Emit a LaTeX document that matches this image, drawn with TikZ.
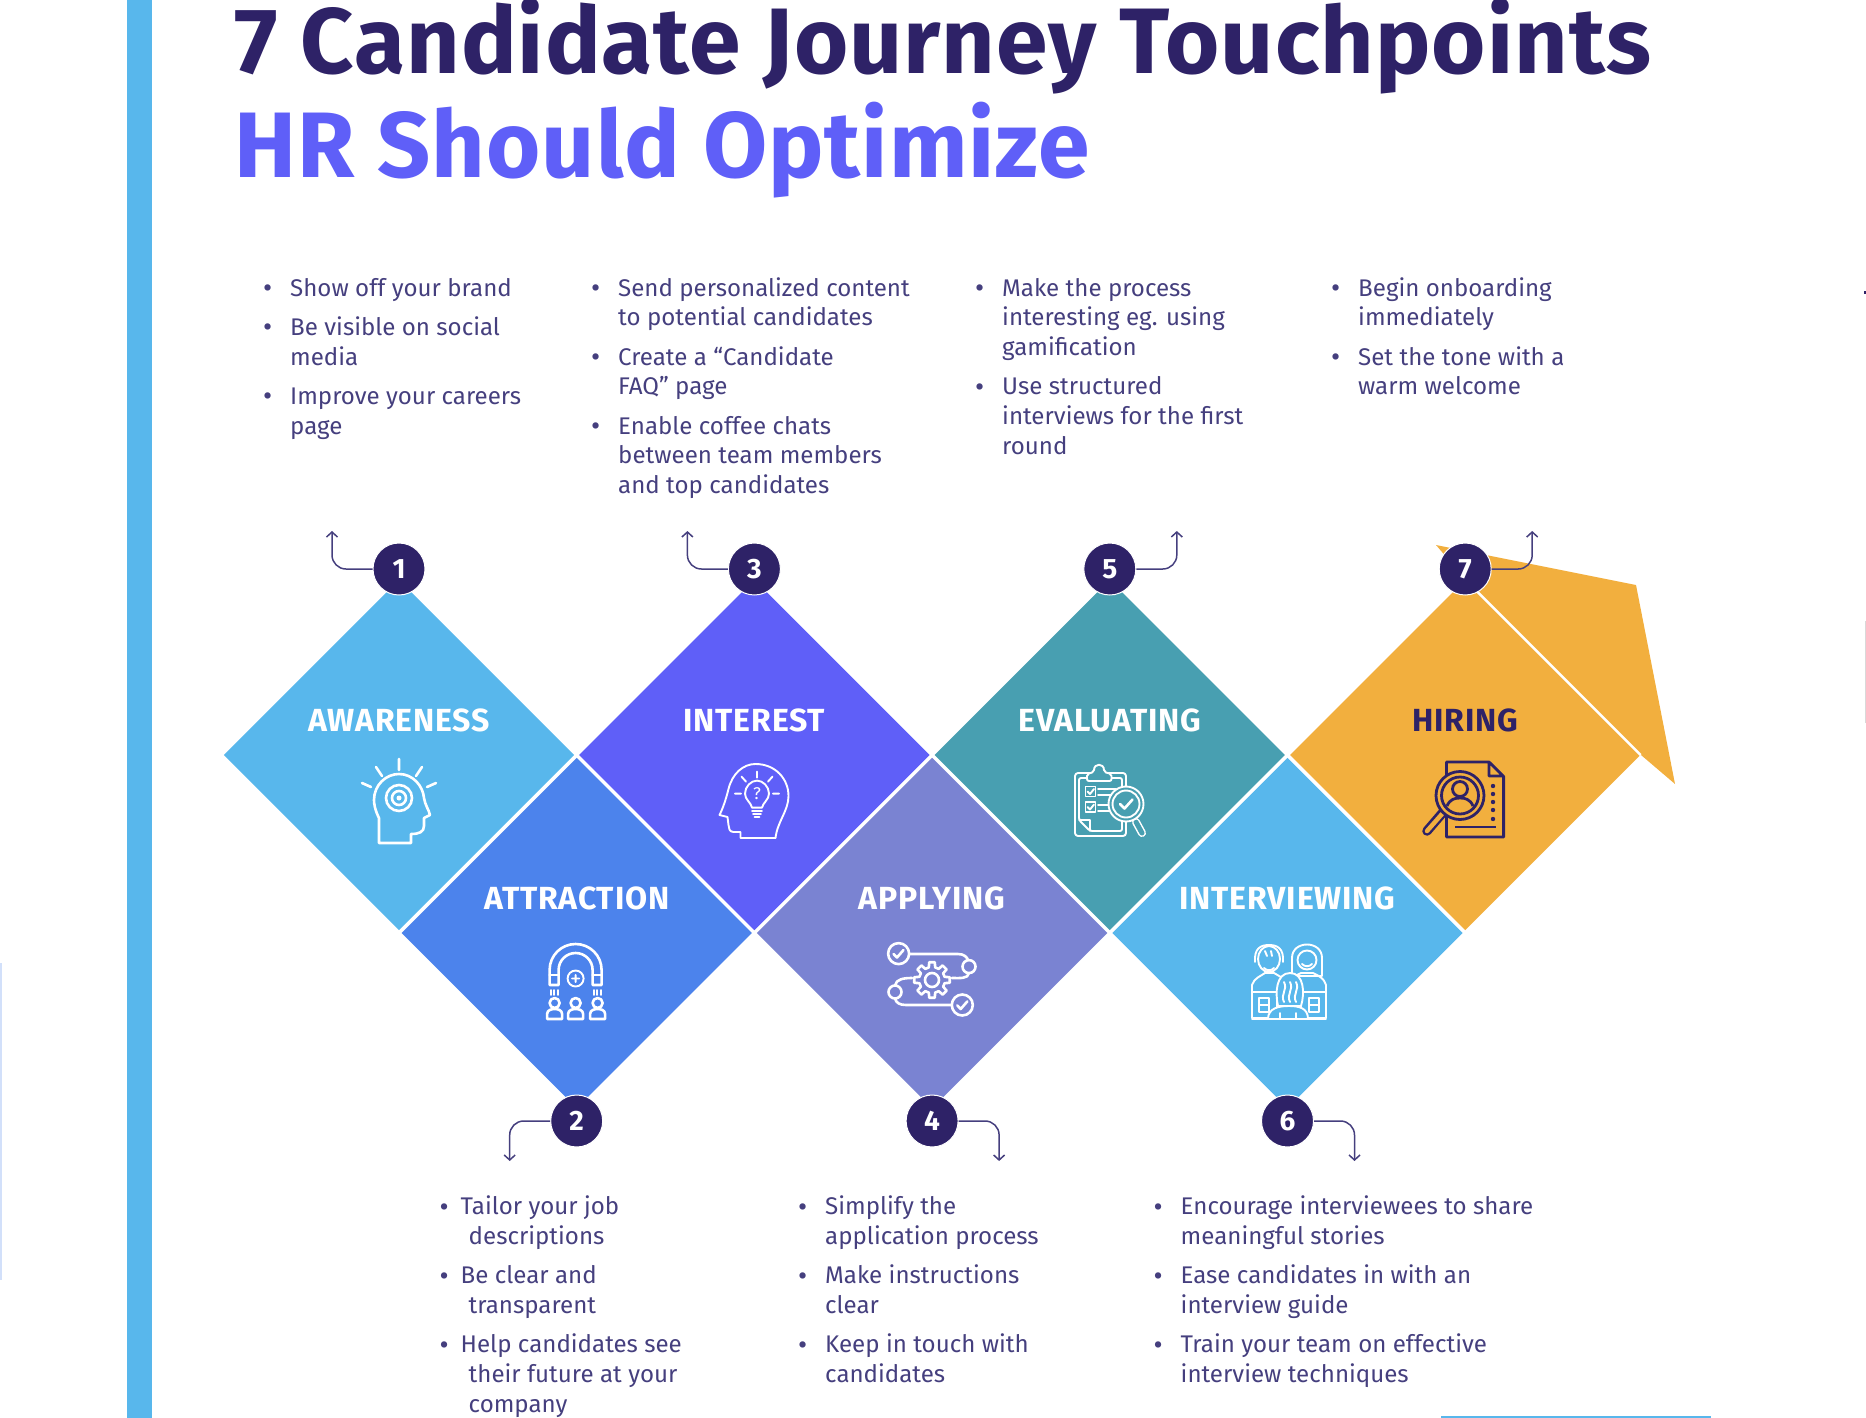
\documentclass[tikz,border=0pt]{standalone}
\usepackage{fontspec}
\setmainfont{Fira Sans}
\newfontfamily\stagefont[LetterSpace=2.5]{Fira Sans}
\newfontfamily\titlefont[LetterSpace=1.1]{Fira Sans}
\usetikzlibrary{shapes.geometric,calc,arrows.meta}
\definecolor{navy}{HTML}{2E2267}
\definecolor{bodyink}{HTML}{453F7E}
\definecolor{skyblue}{HTML}{58B7EC}
\definecolor{royal}{HTML}{4C83EC}
\definecolor{violet}{HTML}{5F5FF8}
\definecolor{lavender}{HTML}{7A83D2}
\definecolor{teal}{HTML}{489FB1}
\definecolor{amber}{HTML}{F2AF3E}
\newcommand{\tip}[1][18pt]{\strut\llap{\raisebox{-1.5pt}{\fontsize{28}{28}\selectfont\textbullet}\hskip #1}}
\newcommand{\tipgap}{\\[9.5pt]}
\tikzset{
  stage/.style={diamond,aspect=1,inner sep=0pt,minimum width=350.5pt,minimum height=350.5pt},
  stagename/.style={font=\stagefont\fontsize{32}{36}\selectfont\bfseries},
  numdot/.style={circle,fill=navy,draw=white,line width=1pt,minimum size=52pt,inner sep=0pt,text=white,font=\fontsize{28}{30}\selectfont\bfseries},
  tips/.style={anchor=north west,align=left,inner sep=0pt,text=bodyink,font=\fontsize{24.1}{29.75}\selectfont},
  headline/.style={anchor=base west,inner sep=0pt,font=\titlefont\fontsize{93}{100}\selectfont\bfseries},
  hook/.style={draw=bodyink,line width=1.5pt,rounded corners=14pt,-{Straight Barb[length=5pt,width=11pt]}},
  icon/.style={white,line width=2.6pt,line join=round,line cap=round},
  thinicon/.style={white,line width=1.9pt,line join=round,line cap=round},
  headtarget/.pic={
    \draw[icon] (-20,43) -- (-20,18) .. controls (-24,10) and (-25,4) .. (-25,0) .. controls (-25,-15) and (-13,-26) .. (0,-26) .. controls (14,-26) and (24,-14) .. (25,-2) .. controls (26,5) and (30,10) .. (31,15) -- (25,18) -- (25,26) .. controls (25,32) and (20,34) .. (12,34) -- (12,43) -- cycle;
    \draw[icon] (0,-41) -- (0,-30) (-23,-33) -- (-17,-24) (23,-33) -- (17,-24) (-37,-17) -- (-28,-13) (37,-17) -- (28,-13);
    \draw[icon] (0,-2) circle (13) (0,-2) circle (7);
    \fill[white] (0,-2) circle (2.5);
  },
  headbulb/.pic={
    \draw[thinicon] (-15,37) -- (-15,31) -- (-22,31) .. controls (-26,31) and (-27,27) .. (-27,24) -- (-28,16) -- (-36,14) .. controls (-33,8) and (-30,0) .. (-27,-12) .. controls (-23,-28) and (-12,-37) .. (0,-37) .. controls (20,-37) and (33,-22) .. (33,-5) .. controls (33,10) and (22,20) .. (20,37) -- cycle;
    \begin{scope}[shift={(1.5,-7.4)}]
    \draw[thinicon] (-5,14) .. controls (-6,9) and (-12,6) .. (-12,0) .. controls (-12,-7) and (-6,-13) .. (0,-13) .. controls (6,-13) and (12,-7) .. (12,0) .. controls (12,6) and (6,9) .. (5,14) -- cycle;
    \draw[thinicon] (-5,17) -- (5,17) (-4,20) -- (4,20) (-2.5,23) -- (2.5,23);
    \draw[thinicon] (0,-22) -- (0,-16) (-15.5,-17) -- (-11,-12) (15.5,-17) -- (11,-12) (-22,0) -- (-16,0) (22,0) -- (16,0);
    \node[text=white,inner sep=0pt,font=\fontsize{17}{17}\selectfont] (mark) at (0,0) {?};
    \end{scope}
  },
  magnet/.pic={
    \draw[icon] (-26,4) -- (-26,-11) .. controls (-26,-25.4) and (-14.4,-37) .. (0,-37) .. controls (14.4,-37) and (26,-25.4) .. (26,-11) -- (26,4) -- (17,4) -- (17,-11) .. controls (17,-20.4) and (9.4,-28) .. (0,-28) .. controls (-9.4,-28) and (-17,-20.4) .. (-17,-11) -- (-17,4) -- cycle;
    \draw[icon] (-26,-6) -- (-17,-6) (26,-6) -- (17,-6);
    \draw[thinicon] (0,-2.5) circle (8) (-3.5,-2.5) -- (3.5,-2.5) (0,-6) -- (0,1);
    \foreach \sx in {-25,-21.5,-18,18,21.5,25}{\draw[thinicon] (\sx,9) -- (\sx,14);}
    \foreach \px in {-21,0,22}{
      \draw[icon] (\px,22) circle (5);
      \draw[icon] (\px-7.5,38) -- (\px-7.5,33) .. controls (\px-7.5,29) and (\px-3,28) .. (\px,28) .. controls (\px+3,28) and (\px+7.5,29) .. (\px+7.5,33) -- (\px+7.5,38) -- cycle;
    }
  },
  gearflow/.pic={
    \draw[icon] (-33.4,-26.4) circle (10.5) (30.3,25) circle (10.5) (37,-13.4) circle (6.5) (-37,12) circle (6.5);
    \draw[icon] (-38.4,-26) -- (-35,-22.5) -- (-28.5,-30) (25.3,25.4) -- (28.7,29) -- (35.3,21.4);
    \draw[icon] (-22,-26) -- (26,-26) .. controls (32,-26) and (35,-23) .. (36,-20);
    \draw[icon] (37,-7) .. controls (36,-1) and (28,-2) .. (20,-2);
    \draw[icon] (-37,5.5) .. controls (-36,-1) and (-28,-2) .. (-20,-2);
    \draw[icon] (-37,18.5) .. controls (-36,23) and (-32,25) .. (-26,25) -- (19.5,25);
    \draw[icon] (-14:13) \foreach \a in {0,45,...,315}{ -- (\a-14:13) -- (\a-9:18) -- (\a+9:18) -- (\a+14:13)} -- cycle;
    \draw[icon] (0,0) circle (7);
  },
  clipcheck/.pic={
    \draw[thinicon,rounded corners=3pt] (-35,-32) rectangle (16,31);
    \draw[thinicon,rounded corners=2pt] (-31,-27) -- (12,-27) -- (12,26) -- (-20,26) -- (-31,15) -- cycle;
    \draw[thinicon] (-31,15) -- (-20,15) -- (-20,26);
    \draw[thinicon,fill=teal,rounded corners=2pt] (-23,-24) -- (-23,-31) -- (-16,-33) .. controls (-16,-42) and (-6,-42) .. (-6,-33) -- (1.5,-31) -- (1.5,-24) -- cycle;
    \draw[thinicon] (-24.5,-18.5) rectangle (-14.5,-8.5) (-24.5,-3) rectangle (-14.5,7);
    \draw[thinicon] (-22.5,-13.5) -- (-20,-11) -- (-16,-16) (-22.5,2) -- (-20,4.5) -- (-16,-0.5);
    \draw[thinicon] (-12,-16) -- (6,-16) (-12,-10) -- (2,-10) (-12,0) -- (0,0) (-12,6) -- (0,6);
    \draw[line width=8pt,white,line cap=round] (26,17) -- (32,28);
    \draw[line width=5pt,teal,line cap=round] (26,17) -- (32,28);
    \draw[thinicon,fill=teal] (16,-1) circle (17.5);
    \draw[thinicon] (16,-1) circle (13.5);
    \draw[icon] (10,-1) -- (14.5,3.5) -- (22.5,-5.5);
  },
  panelfaces/.pic={
    \draw[thinicon] (-37,4) -- (-37,-3) .. controls (-35,-10) and (-28,-12) .. (-24,-15) -- (-15,-15) .. controls (-10,-12) and (-5,-10) .. (-3,-5);
    \draw[thinicon] (3,-8) .. controls (5,-12) and (8,-13) .. (12,-15) -- (24,-15) .. controls (30,-12) and (35,-10) .. (37,-3) -- (37,4);
    \draw[thinicon,fill=skyblue] (-20,-29) ellipse (11 and 13);
    \draw[thinicon] (-34,-26) .. controls (-35,-40) and (-28,-43) .. (-20,-43) .. controls (-12,-43) and (-5,-40) .. (-6,-26);
    \draw[thinicon] (-24,-37) -- (-22,-32) (-18,-37) -- (-17,-32) (-25,-20) .. controls (-22,-17) and (-18,-17) .. (-15,-20);
    \draw[thinicon] (3,-12) -- (3,-30) .. controls (3,-48) and (33,-48) .. (33,-30) -- (33,-12) -- cycle;
    \draw[thinicon] (18,-28) circle (9.5);
    \draw[thinicon] (13,-24) .. controls (16,-21) and (20,-21) .. (23,-24);
    \draw[thinicon,fill=skyblue] (-37,4) rectangle (-12,30);
    \draw[thinicon,fill=skyblue] (12,4) rectangle (37,30);
    \draw[thinicon] (-30,10) rectangle (-20,24) (-30,17) -- (-20,17) (20,10) rectangle (30,24) (20,17) -- (30,17);
    \draw[thinicon,fill=skyblue] (-11,18) .. controls (-14,5) and (-13,-15) .. (1,-15) .. controls (15,-15) and (16,5) .. (12,18) -- cycle;
    \draw[thinicon] (-5,14) .. controls (-9,6) and (-1,2) .. (-5,-6) (1,14) .. controls (-3,6) and (5,2) .. (1,-6) (7,14) .. controls (3,6) and (11,2) .. (7,-6);
    \draw[thinicon,fill=skyblue] (-21,31) .. controls (-21,20) and (-10,18) .. (0,18) .. controls (10,18) and (19,20) .. (19,31) -- cycle;
    \draw[thinicon] (-37,31) -- (37,31) (-9,31) -- (-9,25) (7,31) -- (7,25);
  },
  docsearch/.pic={
    \draw[navy,line width=2.8pt,line join=round] (-23.6,-38) -- (19,-38) -- (33.6,-23.6) -- (33.6,37) -- (-23.6,37) -- cycle (19,-38) -- (19,-24) -- (33.6,-24);
    \draw[navy,line width=9.5pt,line cap=round] (-25,10) -- (-43,31);
    \draw[amber,line width=4.5pt,line cap=round] (-28,14) -- (-43,31);
    \draw[navy,line width=2.8pt,fill=amber] (-10,-4.5) circle (24);
    \draw[navy,line width=2.8pt] (-10,-4.5) circle (18.5);
    \draw[navy,line width=2.8pt] (-10,-11) circle (7.5);
    \draw[navy,line width=2.8pt] (-23,6) .. controls (-20,-1) and (-15,-2) .. (-10,-2) .. controls (-5,-2) and (0,-1) .. (3,6);
    \foreach \dy in {-14,-6,2,10,19}{\fill[navy] (23,\dy) circle (2.2);}
    \draw[navy,line width=2.8pt] (-15,27) -- (26,27);
  },
}
\begin{document}
\begin{tikzpicture}[x=1pt,y=-1pt]
\useasboundingbox (0,0) rectangle (1866,1418);
\fill[skyblue] (127,0) rectangle (152,1418);
\fill[royal!25] (0,963) rectangle (2,1280);
\fill[skyblue] (1441,1416) rectangle (1711,1418);
\fill[black!15] (1864.5,621) rectangle (1866,723);
\fill[navy] (1863.5,291) rectangle (1866,293.5);
% title
\node[headline,text=navy] (title1) at (234,74) {7 Candidate Journey Touchpoints};
\node[headline,text=violet] (title2) at (234,178) {HR Should Optimize};
% arrow head behind the last diamond
\fill[amber] (1436,545) -- (1636,585) -- (1675,784) -- (1641,755) -- (1465,579) -- cycle;
\foreach \num/\cx/\cy/\col/\lab/\labcol in {
  1/399/755/skyblue/AWARENESS/white,
  2/576.7/933/royal/ATTRACTION/white,
  3/754.4/755/violet/INTEREST/white,
  4/932.1/933/lavender/APPLYING/white,
  5/1109.8/755/teal/EVALUATING/white,
  6/1287.5/933/skyblue/INTERVIEWING/white,
  7/1465.2/755/amber/HIRING/navy}{
    \node[stage,fill=\col] (d\num) at (\cx,\cy) {};
    \node[stagename,text=\labcol] (l\num) at (\cx,\cy-35) {\lab};
}
\draw[white,line width=2.5pt] (d7.north) -- (d7.east);
\foreach \num/\dx/\dy/\ypos in {1/-67/-38/569,2/-67/40/1121,3/-67/-38/569,4/67/40/1121,5/67/-38/569,6/67/40/1121,7/67/-38/569}{
    \node[numdot] (n\num) at (d\num |- 0,\ypos) {\num};
    \coordinate (a\num) at ($(n\num)+(\dx,\dy)$);
    \ifnum\dx<0 \draw[hook] (n\num.west) -| (a\num); \else \draw[hook] (n\num.east) -| (a\num); \fi
}
% icons
\pic at (399,800) {headtarget};
\pic at (575.6,981) {magnet};
\pic at (755.5,801) {headbulb};
\pic at (932,980) {gearflow};
\pic at (1110,805) {clipcheck};
\pic at (1289,988) {panelfaces};
\pic at (1470,800) {docsearch};
% texts
\node[tips] (t1) at (290,275) {\tip Show off your brand\tipgap\tip Be visible on social\\media\tipgap\tip Improve your careers\\page};
\node[tips] (t3) at (618,275) {\tip Send personalized content\\to potential candidates\tipgap\tip Create a “Candidate\\FAQ” page\tipgap\tip Enable coffee chats\\between team members\\and top candidates};
\node[tips] (t5) at (1002,275) {\tip Make the process\\interesting eg. using\\gamification\tipgap\tip Use structured\\interviews for the first\\round};
\node[tips] (t7) at (1358,275) {\tip Begin onboarding\\immediately\tipgap\tip Set the tone with a\\warm welcome};
\node[tips] (t2) at (460.5,1193.5) {\tip[12pt]Tailor your job\\\hskip 8pt descriptions\tipgap\tip[12pt]Be clear and\\\hskip 8pt transparent\tipgap\tip[12pt]Help candidates see\\\hskip 8pt their future at your\\\hskip 8pt company};
\node[tips] (t4) at (825,1193.5) {\tip Simplify the\\application process\tipgap\tip Make instructions\\clear\tipgap\tip Keep in touch with\\candidates};
\node[tips] (t6) at (1180.5,1193.5) {\tip Encourage interviewees to share\\meaningful stories\tipgap\tip Ease candidates in with an\\interview guide\tipgap\tip Train your team on effective\\interview techniques};
\end{tikzpicture}
\end{document}
